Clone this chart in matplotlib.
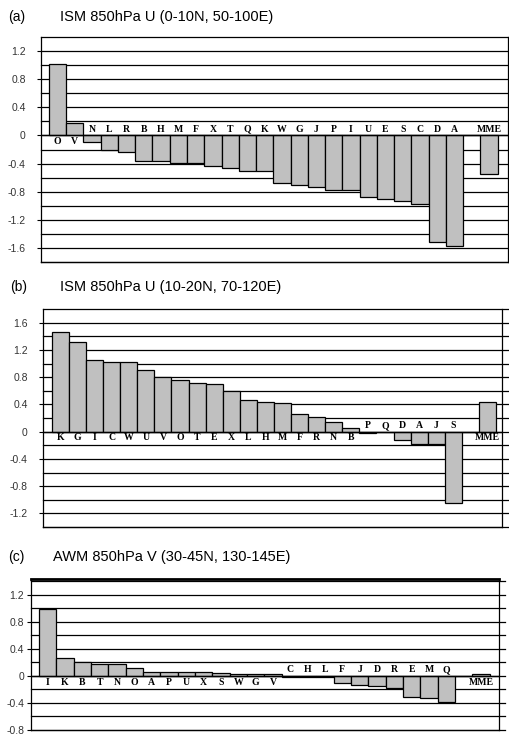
import matplotlib
matplotlib.use("Agg")
import matplotlib.pyplot as plt
import numpy as np

# model labels and values
models_a = ["O", "V", "N", "L", "R", "B", "H", "M", "F", "X", "T", "Q",
            "K", "W", "G", "J", "P", "I", "U", "E", "S", "C", "D", "A"]
vals_a = [1.02, 0.18, -0.10, -0.20, -0.23, -0.37, -0.37, -0.39, -0.39, -0.43,
          -0.46, -0.51, -0.51, -0.68, -0.71, -0.73, -0.77, -0.77, -0.87, -0.90,
          -0.93, -0.98, -1.51, -1.57]
mme_a = -0.55

models_b = ["K", "G", "I", "C", "W", "U", "V", "O", "T", "E", "X", "L",
            "H", "M", "F", "R", "N", "B", "P", "Q", "D", "A", "J", "S"]
vals_b = [1.46, 1.31, 1.05, 1.02, 1.02, 0.91, 0.80, 0.76, 0.72, 0.70, 0.59,
          0.47, 0.44, 0.42, 0.26, 0.21, 0.14, 0.06, -0.02, -0.01, -0.13, -0.18,
          -0.18, -1.05]
mme_b = 0.44

models_c = ["I", "K", "B", "T", "N", "O", "A", "P", "U", "X", "S", "W",
            "G", "V", "C", "H", "L", "F", "J", "D", "R", "E", "M", "Q"]
vals_c = [0.99, 0.26, 0.20, 0.17, 0.17, 0.11, 0.06, 0.06, 0.06, 0.06, 0.04,
          0.02, 0.02, 0.02, -0.01, -0.02, -0.02, -0.10, -0.13, -0.15, -0.18,
          -0.31, -0.33, -0.38]
mme_c = 0.02

fig = plt.figure(figsize=(5.1, 7.36), dpi=100)
W, H = 510.0, 736.0


def panel(px_box, models, vals, mme, ylim, xlim, ticks, letter, title,
          title_y, title_x, thick_top=False, grid_ext=0.0, pad=8):
    l, r, t, b = px_box
    ax = fig.add_axes([l / W, 1 - b / H, (r - l) / W, (b - t) / H])
    names = models + ["", "MME"]
    values = vals + [np.nan, mme]
    x = np.arange(len(names))
    ax.bar(x, np.nan_to_num(values), width=1.0, color="#c0c0c0",
           edgecolor="black", linewidth=0.9, zorder=3)
    ax.set_xlim(*xlim)
    ax.set_ylim(*ylim)
    # gridlines every 0.2
    for g in np.arange(-2.0, 2.01, 0.2):
        g = round(g, 1)
        if ylim[0] - 1e-6 <= g <= ylim[1] + 1e-6:
            ax.axhline(g, xmin=0, xmax=1 + grid_ext, color="black", lw=0.9,
                       zorder=1, clip_on=False)
    ax.axhline(0, color="black", lw=1.0, zorder=4)
    for xi, name, v in zip(x, names, values):
        if not name:
            continue
        if v >= 0:
            ax.text(xi, -0.025, name, ha="center", va="top", fontsize=7,
                    family="Liberation Serif", fontweight="bold", zorder=5)
        else:
            ax.text(xi, 0.025, name, ha="center", va="bottom", fontsize=7,
                    family="Liberation Serif", fontweight="bold", zorder=5)
    ax.set_yticks(ticks)
    ax.set_yticklabels([("%g" % tk) if tk != 0 else "0" for tk in ticks],
                       fontsize=7.5, color="#333333", family="Liberation Sans")
    ax.tick_params(axis="y", length=3, width=0.8, pad=pad)
    ax.set_xticks([])
    for s in ["left", "right", "bottom", "top"]:
        ax.spines[s].set_linewidth(0.9)
    ax.spines["top"].set_visible(thick_top)
    if thick_top:
        ax.spines["top"].set_linewidth(2.0)
    fig.text(title_x[0] / W, 1 - title_y / H, letter, fontsize=10,
             family="Liberation Sans", va="center")
    fig.text(title_x[1] / W, 1 - title_y / H, title, fontsize=10.5,
             family="Liberation Sans", va="center")
    return ax


panel((41, 508, 37, 262), models_a, vals_a, mme_a, (-1.8, 1.4), (-0.96, 26.1),
      [-1.6, -1.2, -0.8, -0.4, 0, 0.4, 0.8, 1.2], "(a)",
      "ISM 850hPa U (0-10N, 50-100E)", 17, (8, 60), grid_ext=0.004)

panel((43, 502, 309, 527), models_b, vals_b, mme_b, (-1.4, 1.8), (-1.02, 25.85),
      [-1.2, -0.8, -0.4, 0, 0.4, 0.8, 1.2, 1.6], "(b)",
      "ISM 850hPa U (10-20N, 70-120E)", 287, (10, 60), grid_ext=0.017)

panel((31, 499, 579, 730), models_c, vals_c, mme_c, (-0.8, 1.43), (-0.96, 26.04),
      [-0.8, -0.4, 0, 0.4, 0.8, 1.2], "(c)",
      "AWM 850hPa V (30-45N, 130-145E)", 557, (8, 53), thick_top=True,
      grid_ext=0.012, pad=2)

fig.savefig("out.png", dpi=100)
